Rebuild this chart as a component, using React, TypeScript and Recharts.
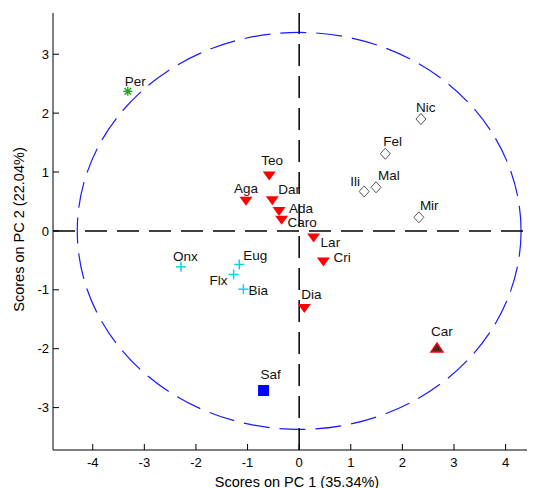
import React from "react";
import {
  ScatterChart,
  Scatter,
  XAxis,
  YAxis,
  ReferenceLine,
  ReferenceArea,
} from "recharts";

type Score = { name: string; pc1: number; pc2: number };

// scores
const perScores: Score[] = [{ name: "Per", pc1: -3.32, pc2: 2.37 }];

const redScores: Score[] = [
  { name: "Teo", pc1: -0.58, pc2: 0.94 },
  { name: "Aga", pc1: -1.03, pc2: 0.51 },
  { name: "Dar", pc1: -0.52, pc2: 0.52 },
  { name: "Ada", pc1: -0.39, pc2: 0.34 },
  { name: "Caro", pc1: -0.34, pc2: 0.19 },
  { name: "Lar", pc1: 0.28, pc2: -0.11 },
  { name: "Cri", pc1: 0.47, pc2: -0.52 },
  { name: "Dia", pc1: 0.1, pc2: -1.31 },
];

const carScores: Score[] = [{ name: "Car", pc1: 2.67, pc2: -1.99 }];

const safScores: Score[] = [{ name: "Saf", pc1: -0.69, pc2: -2.71 }];

const diamondScores: Score[] = [
  { name: "Nic", pc1: 2.36, pc2: 1.9 },
  { name: "Fel", pc1: 1.67, pc2: 1.31 },
  { name: "Mal", pc1: 1.49, pc2: 0.74 },
  { name: "Ili", pc1: 1.26, pc2: 0.67 },
  { name: "Mir", pc1: 2.32, pc2: 0.23 },
];

const plusScores: Score[] = [
  { name: "Onx", pc1: -2.29, pc2: -0.61 },
  { name: "Eug", pc1: -1.16, pc2: -0.57 },
  { name: "Flx", pc1: -1.27, pc2: -0.74 },
  { name: "Bia", pc1: -1.08, pc2: -0.99 },
];

const xTicks = [-4, -3, -2, -1, 0, 1, 2, 3, 4];
const yTicks = [-3, -2, -1, 0, 1, 2, 3];
const xDomain = [-4.77, 4.57];
const yDomain = [-3.72, 3.7];
const ellipseRadii = { pc1: 4.3, pc2: 3.37 };

// label placement relative to marker (px): left edge, vertical centre
const labelOffset: Record<string, [number, number]> = {
  Per: [-3, -10],
  Teo: [-8, -16],
  Aga: [-12, -13],
  Dar: [6, -11],
  Ada: [10, -3],
  Caro: [6, 2],
  Lar: [7, 5],
  Cri: [10, -5],
  Dia: [-3, -14],
  Car: [-6, -17],
  Saf: [-3, -17],
  Nic: [-5, -12],
  Fel: [-2, -13],
  Mal: [2, -12],
  Ili: [-14, -10],
  Mir: [1, -12],
  Onx: [-8, -11],
  Eug: [4, -9],
  Flx: [-24, 6],
  Bia: [5, 1],
};

const FONT = "'Liberation Sans', Arial, sans-serif";

const withLabel =
  (marker: (cx: number, cy: number) => React.ReactNode) => (props: any) => {
    const { cx, cy, payload } = props;
    const [dx, dy] = labelOffset[payload.name] || [0, -12];
    return (
      <g>
        {marker(cx, cy)}
        <text
          x={cx + dx}
          y={cy + dy + 5}
          fontSize={13.5}
          fontFamily={FONT}
          fill="#111"
        >
          {payload.name}
        </text>
      </g>
    );
  };

const asterisk = withLabel((cx, cy) => (
  <g stroke="#1fa51f" strokeWidth={1.4}>
    <line x1={cx - 4.5} y1={cy} x2={cx + 4.5} y2={cy} />
    <line x1={cx} y1={cy - 4.5} x2={cx} y2={cy + 4.5} />
    <line x1={cx - 3.3} y1={cy - 3.3} x2={cx + 3.3} y2={cy + 3.3} />
    <line x1={cx - 3.3} y1={cy + 3.3} x2={cx + 3.3} y2={cy - 3.3} />
  </g>
));

const downTriangle = withLabel((cx, cy) => (
  <polygon
    points={`${cx - 6.5},${cy - 4} ${cx + 6.5},${cy - 4} ${cx},${cy + 5}`}
    fill="#ff0000"
  />
));

const upTriangle = withLabel((cx, cy) => (
  <polygon
    points={`${cx - 6},${cy + 4} ${cx + 6},${cy + 4} ${cx},${cy - 5}`}
    fill="#3b2b2b"
    stroke="#ff0000"
    strokeWidth={1.5}
  />
));

const square = withLabel((cx, cy) => (
  <rect x={cx - 5.5} y={cy - 5.5} width={11} height={11} fill="#0000ff" />
));

const diamond = withLabel((cx, cy) => (
  <polygon
    points={`${cx},${cy - 5.5} ${cx + 5},${cy} ${cx},${cy + 5.5} ${cx - 5},${cy}`}
    fill="#fff"
    stroke="#555"
    strokeWidth={1}
  />
));

const plus = withLabel((cx, cy) => (
  <g stroke="#00d8e8" strokeWidth={1.5}>
    <line x1={cx - 5} y1={cy} x2={cx + 5} y2={cy} />
    <line x1={cx} y1={cy - 5} x2={cx} y2={cy + 5} />
  </g>
));

const ellipseShape = (props: any) => {
  const { x, y, width, height } = props;
  return (
    <ellipse
      cx={x + width / 2}
      cy={y + height / 2}
      rx={Math.abs(width) / 2}
      ry={Math.abs(height) / 2}
      fill="none"
      stroke="#1a1aff"
      strokeWidth={1.2}
      strokeDasharray="26 10"
    />
  );
};

const tickStyle = { fontSize: 13, fill: "#000", fontFamily: FONT };

export default function App() {
  return (
    <ScatterChart
      width={527}
      height={480}
      margin={{ top: 5, right: 0, bottom: 0, left: 0 }}
    >
      <XAxis
        type="number"
        dataKey="pc1"
        domain={xDomain}
        ticks={xTicks}
        allowDataOverflow
        height={38}
        stroke="#000"
        tick={tickStyle}
        tickSize={-6}
        tickMargin={14}
        label={(p: any) => {
          const vb = p.viewBox;
          return (
            <text
              x={vb.x + vb.width / 2 + 3}
              y={vb.y + vb.height - 1.5}
              textAnchor="middle"
              fontSize={14.5}
              fontFamily={FONT}
              fill="#000"
            >
              Scores on PC 1 (35.34%)
            </text>
          );
        }}
      />
      <XAxis
        xAxisId="top"
        orientation="top"
        type="number"
        dataKey="pc1"
        domain={xDomain}
        ticks={xTicks}
        allowDataOverflow
        height={0}
        stroke="#000"
        tickSize={-6}
        tick={() => <g />}
      />
      <YAxis
        type="number"
        dataKey="pc2"
        domain={yDomain}
        ticks={yTicks}
        allowDataOverflow
        width={45}
        stroke="#000"
        tick={tickStyle}
        tickSize={-6}
        tickMargin={10}
        label={(p: any) => {
          const vb = p.viewBox;
          const cx = 10.5;
          const cy = vb.y + vb.height / 2 - 2;
          return (
            <text
              x={cx}
              y={cy}
              transform={`rotate(-90 ${cx} ${cy})`}
              textAnchor="middle"
              dominantBaseline="central"
              fontSize={14.5}
              fontFamily={FONT}
              fill="#000"
            >
              Scores on PC 2 (22.04%)
            </text>
          );
        }}
      />
      <ReferenceArea
        x1={-ellipseRadii.pc1}
        x2={ellipseRadii.pc1}
        y1={-ellipseRadii.pc2}
        y2={ellipseRadii.pc2}
        shape={ellipseShape}
      />
      <ReferenceLine x={0} stroke="#000" strokeWidth={1.5} strokeDasharray="22 10" />
      <ReferenceLine y={0} stroke="#000" strokeWidth={1.5} strokeDasharray="22 10" />
      <Scatter data={perScores} shape={asterisk} isAnimationActive={false} />
      <Scatter data={redScores} shape={downTriangle} isAnimationActive={false} />
      <Scatter data={carScores} shape={upTriangle} isAnimationActive={false} />
      <Scatter data={safScores} shape={square} isAnimationActive={false} />
      <Scatter data={diamondScores} shape={diamond} isAnimationActive={false} />
      <Scatter data={plusScores} shape={plus} isAnimationActive={false} />
    </ScatterChart>
  );
}
